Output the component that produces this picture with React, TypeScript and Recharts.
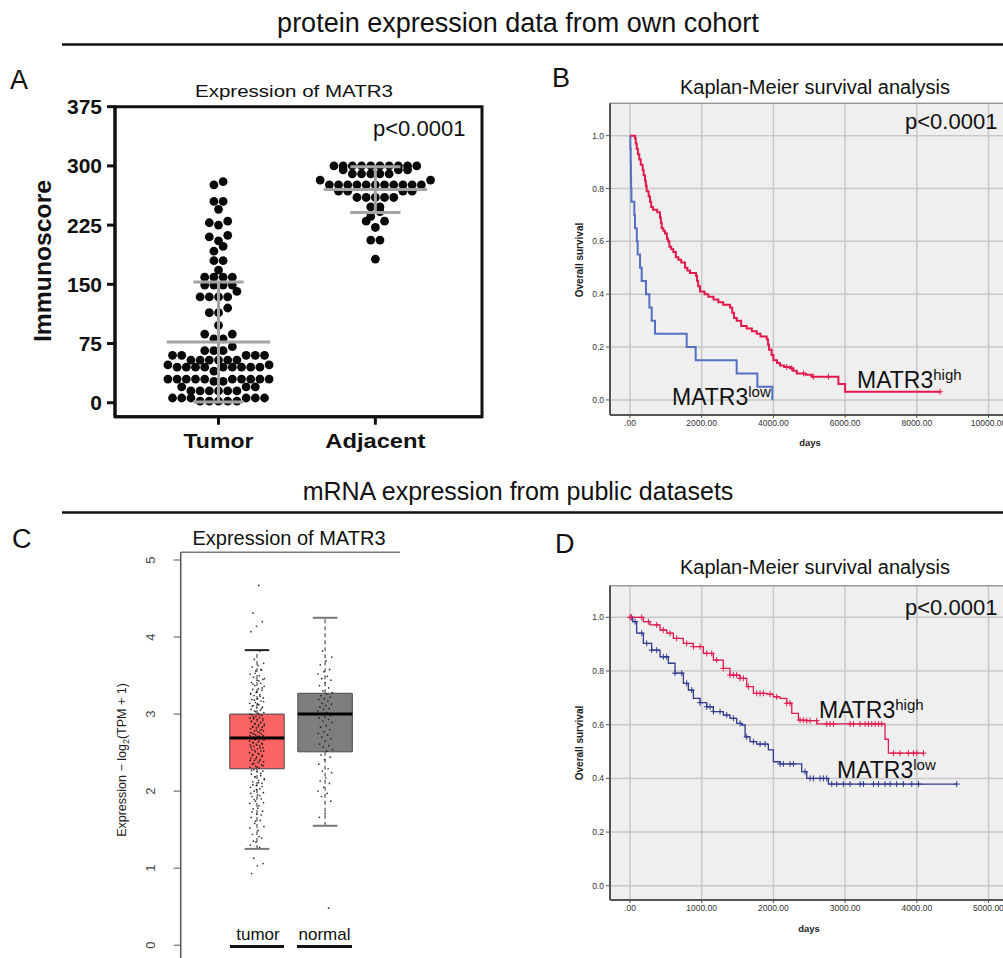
import React from 'react';
import {
  ScatterChart, Scatter, ComposedChart, Line, XAxis, YAxis, CartesianGrid,
  ReferenceLine, ReferenceArea,
} from 'recharts';

const FONT = '"Liberation Sans", Arial, Helvetica, sans-serif';

// ---------- A: immunoscore, own cohort ----------
const scoreGroups = ['Tumor', 'Adjacent'];
const tumorScores = [
  280, 276, 255, 255, 245, 230, 228, 225, 212, 210, 205, 198, 192, 180, 180, 168,
  159, 159, 159, 159, 149, 149, 149, 149, 141, 134, 134, 134, 134, 120, 114, 114,
  98, 87, 87, 81, 81, 71, 66, 66, 66, 60, 60, 60, 60, 60, 54, 54, 54, 54, 54, 54,
  48, 48, 45, 45, 45, 45, 45, 45, 45, 45, 45, 40,
  30, 30, 30, 30, 30, 30, 30, 30, 30, 30, 27, 27,
  20, 20, 20, 15, 15, 15, 15, 15, 15,
  6, 6, 6, 6, 6, 6, 2, 2, 2, 2, 2,
];
const adjacentScores = [
  300, 300, 300, 300, 300, 300, 300, 300, 300, 300, 295, 295, 295,
  290, 290, 290, 290, 290, 282, 282,
  276, 276, 276, 276, 276, 276, 276, 276, 276, 276, 276,
  268, 268, 268, 268, 260, 260, 260, 260, 260, 248, 248, 242, 236, 230, 230, 222, 206, 206, 182,
];
const scoreMeans = [77, 270];
const scoreSDs = [76, 29];
const scoreTicks = [0, 75, 150, 225, 300, 375];

// ---------- B: Kaplan-Meier, own cohort ----------
const bLowDays = [0, 10, 20, 25, 30, 40, 120, 140, 190, 214, 280, 326, 446, 540, 605, 698, 1581, 1832, 2976, 3553, 3971];
const bLowSurv = [1, 0.95, 0.9, 0.85, 0.8, 0.75, 0.7, 0.65, 0.6, 0.55, 0.5, 0.45, 0.4, 0.35, 0.3, 0.25, 0.2, 0.15, 0.1, 0.05, 0];
const bHighDays = [
  0, 140, 160, 187, 220, 260, 300, 354, 380, 419, 440, 465, 520, 558, 590, 640, 760, 837, 860, 884,
  930, 977, 1030, 1060, 1098, 1150, 1209, 1280, 1349, 1430, 1535, 1600, 1674, 1841, 1870, 1900, 1953, 2080, 2185, 2330,
  2464, 2600, 2790, 2850, 2900, 2977, 3100, 3256, 3400, 3535, 3640, 3814, 3850, 3878, 3950, 4000, 4100, 4185, 4300, 4464,
  4550, 4651, 4900, 5069, 5813, 6000, 8650,
];
const bHighSurv = [
  1, 0.99, 0.97, 0.95, 0.93, 0.91, 0.89, 0.87, 0.85, 0.83, 0.81, 0.79, 0.77, 0.75, 0.73, 0.72, 0.71, 0.69, 0.67, 0.65,
  0.64, 0.63, 0.61, 0.6, 0.58, 0.57, 0.56, 0.54, 0.53, 0.52, 0.5, 0.49, 0.48, 0.47, 0.45, 0.43, 0.41, 0.4, 0.39, 0.38,
  0.37, 0.36, 0.35, 0.33, 0.31, 0.3, 0.28, 0.27, 0.26, 0.25, 0.24, 0.23, 0.21, 0.19, 0.17, 0.15, 0.14, 0.13, 0.125, 0.12,
  0.11, 0.1, 0.095, 0.088, 0.06, 0.031, 0.031,
];
const bHighCensor = [4372, 4511, 4837, 5115, 5534, 8650];
const bDayTicks = [0, 2000, 4000, 6000, 8000, 10000];

// ---------- C: GEPIA box plot ----------
const boxNames = ['tumor', 'normal'];
const boxQ1 = [2.29, 2.51];
const boxMedian = [2.69, 3.0];
const boxQ3 = [3.0, 3.27];
const whiskerLow = [1.25, 1.55];
const whiskerHigh = [3.83, 4.25];
const tpmTicks = [0, 1, 2, 3, 4, 5];
const tumorTPM = [
  4.67, 4.31, 4.2, 4.14, 4.07,
  3.82, 3.71, 3.66, 3.63, 3.61, 3.57, 3.56, 3.52, 3.5, 3.48, 3.45, 3.44, 3.41, 3.4, 3.37, 3.36, 3.33, 3.32, 3.31,
  3.28, 3.27, 3.25, 3.24, 3.21, 3.2, 3.19, 3.17, 3.15, 3.14, 3.12, 3.11, 3.09, 3.08, 3.06, 3.05, 3.04, 3.02, 3.01,
  2.99, 2.98, 2.97, 2.95, 2.95, 2.94, 2.92, 2.91, 2.9, 2.89, 2.87, 2.87, 2.86, 2.84, 2.83, 2.82, 2.81, 2.79, 2.78,
  2.78, 2.77, 2.75, 2.74, 2.73, 2.72, 2.71, 2.7, 2.7, 2.69, 2.68, 2.68, 2.67, 2.66, 2.64, 2.63, 2.62, 2.61, 2.6,
  2.59, 2.58, 2.56, 2.55, 2.54, 2.52, 2.51, 2.5, 2.48, 2.47, 2.46, 2.44, 2.43, 2.41, 2.4, 2.38, 2.37, 2.35, 2.34,
  2.32, 2.31, 2.3, 2.28, 2.26, 2.25, 2.22, 2.2, 2.19, 2.16, 2.14, 2.12, 2.1, 2.07, 2.05, 2.03, 2.0, 1.98, 1.95,
  1.93, 1.9, 1.87, 1.84, 1.81, 1.77, 1.74, 1.7, 1.66, 1.62, 1.58, 1.54, 1.49, 1.44, 1.39, 1.34, 1.3, 1.27,
  1.13, 1.06, 1.03, 0.93,
  3.58, 3.53, 3.46, 3.43, 3.39, 3.34, 3.29, 3.26, 3.23, 3.18, 3.16, 3.13, 3.1, 3.07, 3.03, 3.0,
  2.99, 2.96, 2.94, 2.93, 2.91, 2.89, 2.88, 2.85, 2.84, 2.83, 2.8, 2.79, 2.76, 2.76, 2.74, 2.72, 2.71, 2.69,
  2.69, 2.67, 2.65, 2.65, 2.63, 2.61, 2.6, 2.57, 2.56, 2.53, 2.52, 2.49, 2.47, 2.45, 2.42, 2.4, 2.39, 2.36,
  2.33, 2.31, 2.27, 2.23, 2.18, 2.15, 2.11, 2.08, 2.06, 2.02, 1.97, 1.94, 1.89, 1.85, 1.78, 1.73, 1.69, 1.61,
  1.52, 1.41, 1.35,
];
const normalTPM = [
  3.82, 3.74, 3.69, 3.64, 3.58, 3.55, 3.52, 3.49, 3.46, 3.44, 3.41, 3.37, 3.34, 3.3, 3.28,
  3.26, 3.24, 3.22, 3.2, 3.19, 3.17, 3.14, 3.13, 3.11, 3.09, 3.07, 3.06, 3.04, 3.02, 3.0, 2.98, 2.96, 2.95,
  2.93, 2.91, 2.89, 2.85, 2.83, 2.8, 2.77, 2.75, 2.73, 2.7, 2.68, 2.65, 2.61, 2.59, 2.57, 2.54, 2.52,
  2.47, 2.44, 2.41, 2.35, 2.29, 2.26, 2.24, 2.17, 2.13, 2.1, 2.05, 2.0, 1.97, 1.93, 1.87, 1.71, 1.66,
  0.48,
];

// ---------- D: Kaplan-Meier, public data ----------
const dHighDays = [0, 186, 279, 419, 512, 605, 744, 884, 1023, 1163, 1302, 1395, 1535, 1628, 1721, 1907, 2000, 2093, 2186, 2256, 2349, 2465, 2605, 3557, 3604, 4092];
const dHighSurv = [1, 0.984, 0.972, 0.953, 0.941, 0.922, 0.903, 0.891, 0.866, 0.841, 0.81, 0.785, 0.773, 0.742, 0.717, 0.714, 0.704, 0.698, 0.68, 0.642, 0.617, 0.615, 0.603, 0.546, 0.494, 0.494];
const dLowDays = [0, 37, 93, 186, 302, 419, 535, 628, 744, 814, 884, 977, 1070, 1163, 1302, 1395, 1488, 1558, 1605, 1674, 1767, 1930, 2000, 2093, 2395, 2465, 2767, 4558];
const dLowSurv = [1, 0.984, 0.941, 0.903, 0.878, 0.853, 0.829, 0.792, 0.754, 0.729, 0.698, 0.682, 0.667, 0.649, 0.636, 0.624, 0.605, 0.599, 0.555, 0.537, 0.528, 0.506, 0.462, 0.454, 0.425, 0.4, 0.379, 0.379];
const dHighCensor = [
  0, 20, 163, 256, 372, 465, 558, 651, 791, 884, 977, 1070, 1140, 1209, 1302, 1395, 1442, 1488, 1535, 1581,
  1651, 1767, 1814, 1860, 1953, 2046, 2186, 2232, 2372, 2418, 2465, 2511, 2604, 2744, 2790, 2837, 3069, 3116,
  3209, 3279, 3325, 3372, 3418, 3465, 3511, 3674, 3767, 3883, 3953, 4000, 4092,
];
const dLowCensor = [
  23, 70, 163, 233, 302, 372, 465, 512, 628, 721, 791, 860, 977, 1070, 1116, 1163, 1256, 1349, 1442, 1535,
  1628, 1721, 1814, 1884, 2093, 2139, 2232, 2279, 2441, 2511, 2558, 2651, 2697, 2744, 2814, 2883, 2976, 3069,
  3209, 3255, 3395, 3465, 3558, 3627, 3720, 3813, 3930, 4023, 4558,
];
const dDayTicks = [0, 1000, 2000, 3000, 4000, 5000];
const survTicks = [0, 0.2, 0.4, 0.6, 0.8, 1.0];

// ---------- helpers ----------
// scatter-dot layout: group close values into rows, lay each row out from the centre
function dotRows(ys: number[], rowH: number, d: number): number[] {
  const order = ys.map((_, i) => i).sort((a, b) => ys[a] - ys[b]);
  const out: number[] = new Array(ys.length).fill(0);
  let row: number[] = [];
  const flush = () => {
    const n = row.length;
    const slots = Array.from({ length: n }, (_, k) => k - (n - 1) / 2);
    slots.sort((a, b) => Math.abs(a) - Math.abs(b) || a - b);
    row.forEach((idx, k) => { out[idx] = slots[k] * d; });
    row = [];
  };
  order.forEach((idx) => {
    if (row.length && ys[idx] - ys[row[0]] > rowH) flush();
    row.push(idx);
  });
  flush();
  return out;
}

const stepsOf = (days: number[], surv: number[]) => days.map((t, i) => ({ t, s: surv[i] }));
const survAt = (days: number[], surv: number[], t: number) => {
  let s = surv[0];
  days.forEach((d, i) => { if (d <= t) s = surv[i]; });
  return s;
};
const censorsOf = (days: number[], surv: number[], cens: number[]) => cens.map((t) => ({ t, s: survAt(days, surv, t) }));
const jitter = (i: number) => ((i * 0.6180339887) % 1) * 2 - 1;
const fmtDays = (v: number) => (v === 0 ? '.00' : v.toFixed(2));

// ---------- panel A ----------
const A_W = 500, A_H = 402;
const A_M = { top: 46.7, right: 18, bottom: 5.3, left: 55 };
const A_YW = 60, A_XH = 40;
const A_XDOM: [number, number] = [0.34, 2.68];
const A_YDOM: [number, number] = [-17.7, 375];
const aPxX = (A_W - A_M.left - A_M.right - A_YW) / (A_XDOM[1] - A_XDOM[0]);
const aPxY = (A_H - A_M.top - A_M.bottom - A_XH) / (A_YDOM[1] - A_YDOM[0]);
const rowPts = (vals: number[], g: number) => {
  const offs = dotRows(vals.map((v) => v * aPxY), 6.5, 9.2);
  return vals.map((v, i) => ({ x: g + offs[i] / aPxX, y: v }));
};
const tumorPts = rowPts(tumorScores, 1);
const adjacentPts = rowPts(adjacentScores, 2);

const bigDot = (p: any) => <circle cx={p.cx} cy={p.cy} r={4.4} fill="#0a0a0a" />;
const groupTickLen: Record<string, number> = { Tumor: 70, Adjacent: 100 };

const GroupTick = (props: any) => {
  const name = scoreGroups[props.payload.value - 1];
  return (
    <text x={props.x} y={props.y + 21} textAnchor="middle" fontFamily={FONT} fontWeight="bold" fontSize={20}
      fill="#111" textLength={groupTickLen[name]} lengthAdjust="spacingAndGlyphs">{name}</text>
  );
};

function PanelA() {
  const grey = { stroke: '#a3a3a3', strokeWidth: 3, zIndex: 700 } as any;
  return (
    <div style={{ position: 'absolute', left: 0, top: 60 }}>
      <ScatterChart width={A_W} height={A_H} margin={A_M}>
        <XAxis type="number" dataKey="x" domain={A_XDOM} ticks={[1, 2]} allowDataOverflow interval={0}
          height={A_XH} tickSize={8} tickLine={{ stroke: '#111', strokeWidth: 3 }}
          axisLine={{ stroke: '#111', strokeWidth: 3 }} tick={<GroupTick />} />
        <YAxis type="number" dataKey="y" domain={A_YDOM} ticks={scoreTicks} allowDataOverflow interval={0}
          width={A_YW} tickSize={8} tickMargin={5} tickLine={{ stroke: '#111', strokeWidth: 3 }}
          axisLine={{ stroke: '#111', strokeWidth: 3 }}
          tick={{ fontSize: 21, fontWeight: 700, fill: '#111', fontFamily: FONT }} />
        <ReferenceArea x1={A_XDOM[0]} x2={A_XDOM[1]} y1={A_YDOM[0]} y2={A_YDOM[1]} fill="none"
          stroke="#111" strokeWidth={3} ifOverflow="visible" />
        <Scatter data={tumorPts} shape={bigDot} isAnimationActive={false} />
        <Scatter data={adjacentPts} shape={bigDot} isAnimationActive={false} />
        {scoreMeans.map((m, i) => {
          const c = i + 1;
          const sd = scoreSDs[i];
          return (
            <React.Fragment key={i}>
              <ReferenceLine segment={[{ x: c - 0.33, y: m }, { x: c + 0.33, y: m }]} {...grey} />
              <ReferenceLine segment={[{ x: c, y: m - sd }, { x: c, y: m + sd }]} {...grey} />
              <ReferenceLine segment={[{ x: c - 0.16, y: m + sd }, { x: c + 0.16, y: m + sd }]} {...grey} />
              <ReferenceLine segment={[{ x: c - 0.16, y: m - sd }, { x: c + 0.16, y: m - sd }]} {...grey} />
            </React.Fragment>
          );
        })}
      </ScatterChart>
    </div>
  );
}

// ---------- panels B & D ----------
const plusShape = (color: string) => (p: any) => (
  <path d={`M${p.cx - 3},${p.cy}h6M${p.cx},${p.cy - 3}v6`} stroke={color} strokeWidth={1} fill="none" />
);

type Curve = { steps: { t: number; s: number }[]; cens: { t: number; s: number }[]; color: string; width: number };

function KMPanel(props: {
  left: number; top: number; height: number; marginTop: number;
  xDomain: [number, number]; xTicks: number[]; yDomain: [number, number]; curves: Curve[];
}) {
  const { left, top, height, marginTop, xDomain, xTicks, yDomain, curves } = props;
  return (
    <div style={{ position: 'absolute', left, top }}>
      <ComposedChart width={460} height={height} margin={{ top: marginTop, right: 0, bottom: 0, left: 0 }}>
        <CartesianGrid fill="#efefef" fillOpacity={1} stroke="#c8c8c8" strokeWidth={1.5} />
        <XAxis type="number" dataKey="t" domain={xDomain} ticks={xTicks} allowDataOverflow interval={0}
          height={40} tickSize={3} tickMargin={2} tickFormatter={fmtDays}
          tick={{ fontSize: 8.5, fill: '#333', fontFamily: FONT }}
          axisLine={{ stroke: '#555', strokeWidth: 2 }} tickLine={{ stroke: '#555' }} />
        <YAxis type="number" dataKey="s" domain={yDomain} ticks={survTicks} allowDataOverflow interval={0}
          width={60} tickSize={4} tickMargin={2} tickFormatter={(v: number) => v.toFixed(1)}
          tick={{ fontSize: 8.5, fill: '#333', fontFamily: FONT }}
          axisLine={{ stroke: '#555', strokeWidth: 2 }} tickLine={{ stroke: '#555' }} />
        <ReferenceArea x1={xDomain[0]} x2={xDomain[1]} y1={yDomain[0]} y2={yDomain[1]} fill="none"
          stroke="#8a8a8a" strokeWidth={1} ifOverflow="visible" />
        {curves.map((c, i) => (
          <Line key={`l${i}`} data={c.steps} dataKey="s" type="stepAfter" stroke={c.color}
            strokeWidth={c.width} dot={false} isAnimationActive={false} />
        ))}
        {curves.map((c, i) => (
          <Scatter key={`c${i}`} data={c.cens} dataKey="s" shape={plusShape(c.color)} isAnimationActive={false} />
        ))}
      </ComposedChart>
    </div>
  );
}

// ---------- panel C ----------
const RotTick = (props: any) => (
  <text x={55} y={props.y} transform={`rotate(-90 55 ${props.y})`} textAnchor="middle"
    fontFamily={FONT} fontSize={13} fill="#444">{props.payload.value}</text>
);
const tinyDot = (p: any) => <circle cx={p.cx} cy={p.cy} r={0.85} fill="#111" fillOpacity={0.85} />;
const tumorJit = tumorTPM.map((v, i) => ({ x: 1 + jitter(i + 1) * 0.11, y: v }));
const normalJit = normalTPM.map((v, i) => ({ x: 2 + jitter(i + 7) * 0.11, y: v }));
const boxFills = ['#fc6363', '#7e7e7e'];
const capColors = ['#222', '#777'];

function PanelC() {
  return (
    <div style={{ position: 'absolute', left: 100, top: 540 }}>
      <ScatterChart width={310} height={430} margin={{ top: 12.3, right: 10, bottom: 1.7, left: 0 }}>
        <XAxis type="number" dataKey="x" domain={[-0.12, 3.1]} hide allowDataOverflow />
        <YAxis type="number" dataKey="y" domain={[-0.3, 5.1]} ticks={tpmTicks} allowDataOverflow interval={0}
          width={80.7} tickSize={7} tickLine={{ stroke: '#555' }} axisLine={{ stroke: '#555', strokeWidth: 1.5 }}
          tick={<RotTick />} />
        <ReferenceLine y={5.1} stroke="#777" strokeWidth={1.5} />
        {boxNames.map((_, i) => (
          <ReferenceArea key={`b${i}`} x1={i + 1 - 0.4} x2={i + 1 + 0.4} y1={boxQ1[i]} y2={boxQ3[i]}
            fill={boxFills[i]} fillOpacity={1} stroke="#4a4a4a" strokeWidth={1} />
        ))}
        {boxNames.map((_, i) => (
          <React.Fragment key={`w${i}`}>
            <ReferenceLine segment={[{ x: i + 1, y: boxQ3[i] }, { x: i + 1, y: whiskerHigh[i] }]}
              stroke="#555" strokeWidth={1.2} strokeDasharray="4 3" />
            <ReferenceLine segment={[{ x: i + 1, y: whiskerLow[i] }, { x: i + 1, y: boxQ1[i] }]}
              stroke="#555" strokeWidth={1.2} strokeDasharray="4 3" />
          </React.Fragment>
        ))}
        <Scatter data={tumorJit} shape={tinyDot} isAnimationActive={false} />
        <Scatter data={normalJit} shape={tinyDot} isAnimationActive={false} />
        {boxNames.map((_, i) => (
          <React.Fragment key={`m${i}`}>
            <ReferenceLine segment={[{ x: i + 0.6, y: boxMedian[i] }, { x: i + 1.4, y: boxMedian[i] }]}
              stroke="#000" strokeWidth={3} {...({ zIndex: 700 } as any)} />
            <ReferenceLine segment={[{ x: i + 1 - 0.18, y: whiskerHigh[i] }, { x: i + 1 + 0.18, y: whiskerHigh[i] }]}
              stroke={capColors[i]} strokeWidth={2} />
            <ReferenceLine segment={[{ x: i + 1 - 0.18, y: whiskerLow[i] }, { x: i + 1 + 0.18, y: whiskerLow[i] }]}
              stroke="#777" strokeWidth={2} />
          </React.Fragment>
        ))}
      </ScatterChart>
    </div>
  );
}

// ---------- text layer ----------
function Matr3({ x, y, sup }: { x: number; y: number; sup: string }) {
  return (
    <text x={x} y={y} fontSize={23} fill="#111">
      MATR3<tspan fontSize={15} dy={-8}>{sup}</tspan>
    </text>
  );
}

function TextLayer() {
  return (
    <svg width={1003} height={958} style={{ position: 'absolute', left: 0, top: 0, pointerEvents: 'none' }}
      fontFamily={FONT}>
      <text x={518} y={32} textAnchor="middle" fontSize={27} fill="#111">protein expression data from own cohort</text>
      <line x1={62} y1={44.5} x2={1003} y2={44.5} stroke="#111" strokeWidth={2.5} />
      <text x={518} y={500} textAnchor="middle" fontSize={25} fill="#111">mRNA expression from public datasets</text>
      <line x1={62} y1={512.5} x2={1003} y2={512.5} stroke="#111" strokeWidth={2.5} />

      <text x={10} y={89} fontSize={27} fill="#111">A</text>
      <text x={552} y={87} fontSize={27} fill="#111">B</text>
      <text x={12} y={548} fontSize={27} fill="#111">C</text>
      <text x={555} y={553} fontSize={27} fill="#111">D</text>

      {/* A */}
      <text x={294} y={97} textAnchor="middle" fontSize={17} fill="#111" textLength={198}
        lengthAdjust="spacingAndGlyphs">Expression of MATR3</text>
      <text x={373} y={136} fontSize={22} fill="#111">p&lt;0.0001</text>
      <text x={51} y={261} transform="rotate(-90 51 261)" textAnchor="middle" fontSize={24} fontWeight="bold"
        fill="#111" textLength={162} lengthAdjust="spacingAndGlyphs">Immunoscore</text>

      {/* B */}
      <text x={815} y={94} textAnchor="middle" fontSize={20} fill="#111">Kaplan-Meier survival analysis</text>
      <text x={905} y={129} fontSize={22} fill="#111">p&lt;0.0001</text>
      <Matr3 x={857} y={388} sup="high" />
      <Matr3 x={672} y={405} sup="low" />
      <text x={583} y={260} transform="rotate(-90 583 260)" textAnchor="middle" fontSize={10} fontWeight="bold"
        fill="#222">Overall survival</text>
      <text x={810} y={446} textAnchor="middle" fontSize={9.5} fontWeight="bold" fill="#222">days</text>

      {/* C */}
      <text x={289} y={545} textAnchor="middle" fontSize={20} fill="#111">Expression of MATR3</text>
      <text x={126} y={760} transform="rotate(-90 126 760)" textAnchor="middle" fontSize={12.5} fill="#222">
        Expression − log<tspan fontSize={9} dy={3}>2</tspan><tspan dy={-3}>(TPM + 1)</tspan>
      </text>
      <text x={258} y={940} textAnchor="middle" fontSize={17} fill="#111">{boxNames[0]}</text>
      <text x={324.5} y={940} textAnchor="middle" fontSize={17} fill="#111">{boxNames[1]}</text>
      <line x1={230} y1={946.5} x2={284} y2={946.5} stroke="#111" strokeWidth={3} />
      <line x1={297} y1={946.5} x2={352} y2={946.5} stroke="#111" strokeWidth={3} />

      {/* D */}
      <text x={815} y={574} textAnchor="middle" fontSize={20} fill="#111">Kaplan-Meier survival analysis</text>
      <text x={905} y={615} fontSize={22} fill="#111">p&lt;0.0001</text>
      <Matr3 x={819} y={718} sup="high" />
      <Matr3 x={837} y={778} sup="low" />
      <text x={583} y={743} transform="rotate(-90 583 743)" textAnchor="middle" fontSize={10} fontWeight="bold"
        fill="#222">Overall survival</text>
      <text x={809} y={932} textAnchor="middle" fontSize={9.5} fontWeight="bold" fill="#222">days</text>
    </svg>
  );
}

export default function App() {
  const bCurves: Curve[] = [
    { steps: stepsOf(bLowDays, bLowSurv), cens: [], color: '#5470c0', width: 2 },
    { steps: stepsOf(bHighDays, bHighSurv), cens: censorsOf(bHighDays, bHighSurv, bHighCensor), color: '#e3194b', width: 2 },
  ];
  const dCurves: Curve[] = [
    { steps: stepsOf(dLowDays, dLowSurv), cens: censorsOf(dLowDays, dLowSurv, dLowCensor), color: '#2f3a8c', width: 1.3 },
    { steps: stepsOf(dHighDays, dHighSurv), cens: censorsOf(dHighDays, dHighSurv, dHighCensor), color: '#e01a4f', width: 1.3 },
  ];
  return (
    <div style={{ position: 'absolute', left: 0, top: 0, width: 1003, height: 958, overflow: 'hidden',
      background: '#fff', fontFamily: FONT }}>
      <PanelA />
      <KMPanel left={550} top={95} height={360} marginTop={8.3} xDomain={[-558, 10600]} xTicks={bDayTicks}
        yDomain={[-0.057, 1.1224]} curves={bCurves} />
      <PanelC />
      <KMPanel left={550} top={575} height={365} marginTop={10.7} xDomain={[-279, 5300]} xTicks={dDayTicks}
        yDomain={[-0.053, 1.118]} curves={dCurves} />
      <TextLayer />
    </div>
  );
}
